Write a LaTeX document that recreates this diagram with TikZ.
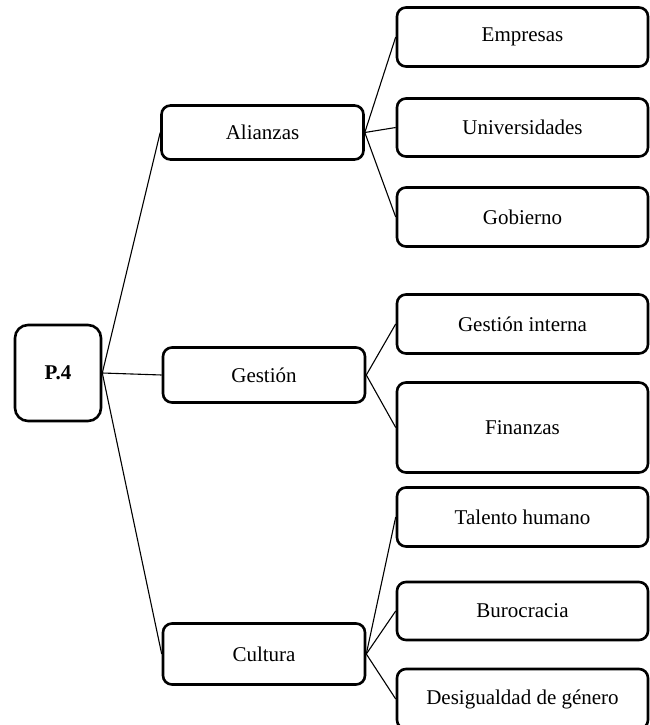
\documentclass[tikz,border=0pt]{standalone}
\usepackage{fontspec}
\setmainfont{Liberation Serif}
\begin{document}
\begin{tikzpicture}[x=1pt,y=-1pt,
  box/.style={draw, line width=2.6pt, rounded corners=9pt, inner sep=0pt,
    font=\fontsize{21}{25}\selectfont, align=center},
  root/.style={box, rounded corners=13pt, font=\fontsize{21}{25}\selectfont\bfseries},
  mid/.style={box, minimum width=202pt},
  leaf/.style={box, minimum width=251pt},
  link/.style={line width=1.1pt}]
\useasboundingbox (0,0) rectangle (650,725);

% root
\node[root, minimum width=86pt, minimum height=96pt] (p4) at (58,373) {P.4};

% second level
\node[mid, minimum height=54pt] (ali) at (262.5,132.5) {Alianzas};
\node[mid, minimum height=55pt] (ges) at (264,375) {Gestión};
\node[mid, minimum height=61pt] (cul) at (264,654) {Cultura};

% third level
\node[leaf, minimum height=59pt] (emp) at (522.5,37) {Empresas};
\node[leaf, minimum height=58pt] (uni) at (522.5,127.5) {Universidades};
\node[leaf, minimum height=59pt] (gob) at (522.5,217) {Gobierno};
\node[leaf, minimum height=59pt] (gin) at (522.5,324) {Gestión interna};
\node[leaf, minimum height=90pt] (fin) at (522.5,427.5) {Finanzas};
\node[leaf, minimum height=59pt] (tal) at (522.5,517) {Talento humano};
\node[leaf, minimum height=58pt] (bur) at (522.5,611) {Burocracia};
\node[leaf, minimum height=60pt] (des) at (522.5,699) {Desigualdad de género};

% connectors
\foreach \c in {ali,ges,cul} \draw[link] (p4.east) -- (\c.west);
\foreach \c in {emp,uni,gob} \draw[link] (ali.east) -- (\c.west);
\foreach \c in {gin,fin} \draw[link] (ges.east) -- (\c.west);
\foreach \c in {tal,bur,des} \draw[link] (cul.east) -- (\c.west);
\end{tikzpicture}
\end{document}
